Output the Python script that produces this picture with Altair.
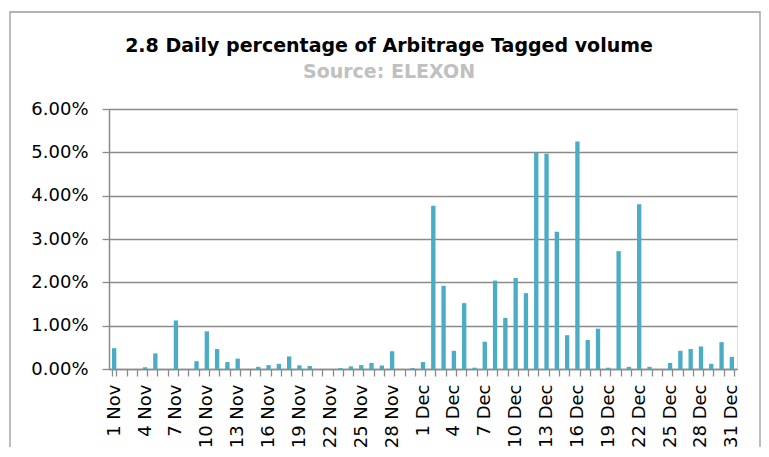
import altair as alt
import pandas as pd

# Categories (days)
nov_days = [f"{d} Nov" for d in range(1, 31)]
dec_days = [f"{d} Dec" for d in range(1, 32)]
days = nov_days + dec_days

# Daily percentage of Arbitrage Tagged volume (in %)
nov_pct = [0.48, 0.0, 0.0, 0.04, 0.36, 0.0, 1.12, 0.0, 0.18, 0.87,
           0.46, 0.16, 0.24, 0.0, 0.05, 0.09, 0.12, 0.29, 0.085, 0.07,
           0.0, 0.0, 0.02, 0.06, 0.09, 0.14, 0.08, 0.41, 0.0, 0.02]
dec_pct = [0.16, 3.77, 1.92, 0.42, 1.52, 0.03, 0.63, 2.04, 1.18, 2.10,
           1.75, 4.99, 4.97, 3.17, 0.78, 5.25, 0.67, 0.93, 0.03, 2.72,
           0.05, 3.80, 0.05, 0.0, 0.14, 0.42, 0.46, 0.52, 0.12, 0.62, 0.28]

# Tick labels shown on the x axis
label_days = ["1 Nov", "4 Nov", "7 Nov", "10 Nov", "13 Nov", "16 Nov", "19 Nov",
              "22 Nov", "25 Nov", "28 Nov", "1 Dec", "4 Dec", "7 Dec", "10 Dec",
              "13 Dec", "16 Dec", "19 Dec", "22 Dec", "25 Dec", "28 Dec", "31 Dec"]
y_ticks = [0.0, 0.01, 0.02, 0.03, 0.04, 0.05, 0.06]

df = pd.DataFrame({"day": days, "pct": [v / 100 for v in nov_pct + dec_pct]})

GRAY = "#8a8a8a"
label_list = "[" + ",".join(f"'{d}'" for d in label_days) + "]"

bars = alt.Chart(df).mark_bar(color="#4BACC6").encode(
    x=alt.X("day:N", sort=days,
            scale=alt.Scale(paddingInner=0.58, paddingOuter=0.29),
            axis=alt.Axis(title=None, labelAngle=270, labelFont="DejaVu Sans",
                          labelFontSize=18, labelColor="#000000",
                          labelExpr=f"indexof({label_list}, datum.value) >= 0 ? datum.value : ''",
                          tickBand="extent", tickSize=7, tickColor=GRAY, tickWidth=1.3,
                          domainColor=GRAY, domainWidth=1.5, labelPadding=8,
                          grid=False, labelOverlap=False)),
    y=alt.Y("pct:Q", scale=alt.Scale(domain=[0, 0.06]),
            axis=alt.Axis(title=None, format=".2%", values=y_ticks,
                          labelFont="DejaVu Sans", labelFontSize=18, labelColor="#000000",
                          tickSize=7, tickColor=GRAY, tickWidth=1.3,
                          domainColor=GRAY, domainWidth=1.5, labelPadding=14,
                          grid=True, gridColor=GRAY, gridWidth=1.5)),
)

frame = alt.Chart(pd.DataFrame({"f": [0]})).mark_rect(
    fillOpacity=0, stroke="#9a9a9a", strokeWidth=1.3
).encode(x=alt.value(-99), x2=alt.value(651), y=alt.value(-97), y2=alt.value(430))

chart = alt.layer(bars, frame).properties(
    width=628, height=260,
    autosize=alt.AutoSizeParams(type="none"),
    padding={"left": 101, "top": 101, "right": 24, "bottom": 78},
    title=alt.TitleParams(
        text="2.8 Daily percentage of Arbitrage Tagged volume",
        subtitle="Source: ELEXON",
        font="DejaVu Sans", fontSize=19, fontWeight="bold", color="#000000",
        subtitleFont="DejaVu Sans", subtitleFontSize=19, subtitleFontWeight="bold",
        subtitleColor="#c0c0c0", subtitlePadding=7,
        anchor="middle", frame="group", dx=-34, offset=-71,
    ),
).configure_view(strokeWidth=0).configure(background="#ffffff")

chart.save("out.html", embed_options={"renderer": "svg", "actions": False})
